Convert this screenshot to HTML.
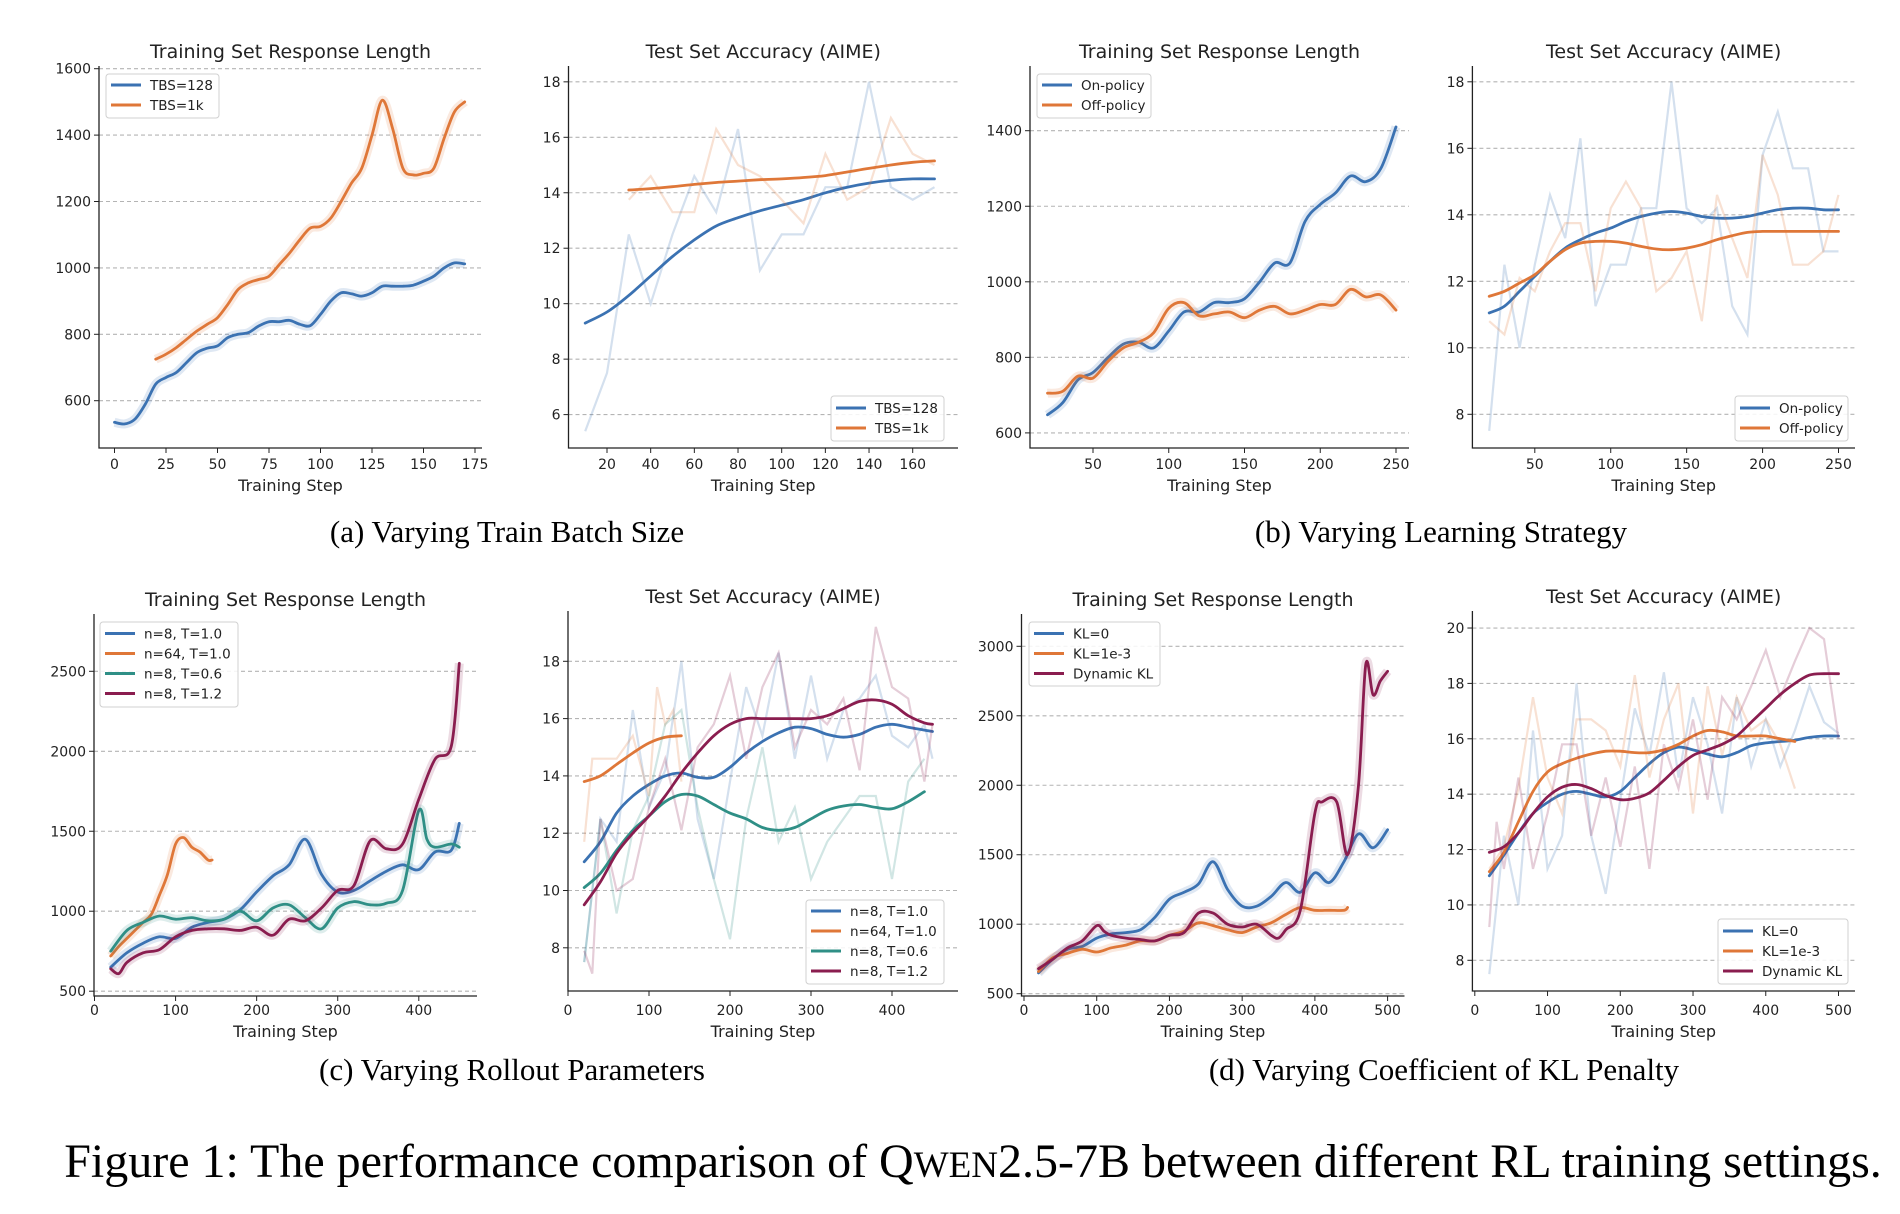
<!DOCTYPE html>
<html><head><meta charset="utf-8"><style>
html,body{margin:0;padding:0;background:#fff}
svg{display:block}
text{font-family:"DejaVu Sans","Liberation Sans",sans-serif;fill:#222}
.cap{font-family:"Liberation Serif",serif;fill:#000}
</style></head><body>
<svg id="fig" width="1900" height="1214" viewBox="0 0 1900 1214" xmlns="http://www.w3.org/2000/svg">
<text class="cap" x="507" y="542" font-size="31" text-anchor="middle">(a) Varying Train Batch Size</text>
<text class="cap" x="1441" y="542" font-size="31" text-anchor="middle">(b) Varying Learning Strategy</text>
<text class="cap" x="512" y="1080" font-size="31" text-anchor="middle">(c) Varying Rollout Parameters</text>
<text class="cap" x="1444" y="1080" font-size="31" text-anchor="middle">(d) Varying Coefficient of KL Penalty</text>
<text class="cap" x="973" y="1177" font-size="48" text-anchor="middle">Figure 1: The performance comparison of Q<tspan font-size="37">WEN</tspan>2.5-7B between different RL training settings.</text>
</svg>
<script>
// ---------- data ----------
const aLenX128 = [0,5,10,15,20,25,30,35,40,45,50,55,60,65,70,75,80,85,90,95,100,105,110,115,120,125,130,135,140,145,150,155,160,165,170];
const aLen128 = [535,530,545,590,650,670,685,715,745,758,765,790,800,805,825,838,838,842,830,826,860,900,925,922,915,925,945,945,945,948,960,975,1000,1015,1012];
const aLenX1k = [20,25,30,35,40,45,50,55,60,65,70,75,80,85,90,95,100,105,110,115,120,125,130,135,140,145,150,155,160,165,170];
const aLen1k = [725,740,760,785,810,830,850,890,935,955,965,975,1010,1045,1085,1120,1125,1150,1200,1255,1300,1400,1505,1420,1300,1280,1285,1300,1390,1470,1500];
const aAccX128 = [10,20,30,40,50,60,70,80,90,100,110,120,130,140,150,160,170];
const aAcc128 = [9.3,9.7,10.3,11.0,11.7,12.3,12.8,13.1,13.35,13.55,13.75,14.0,14.2,14.35,14.45,14.5,14.5];
const aAccRaw128 = [5.4,7.5,12.5,10.0,12.5,14.6,13.3,16.3,11.2,12.5,12.5,14.2,14.2,18.0,14.2,13.75,14.2];
const aAccX1k = [30,40,50,60,70,80,90,100,110,120,130,140,150,160,170];
const aAcc1k = [14.1,14.15,14.22,14.3,14.37,14.42,14.47,14.5,14.55,14.62,14.75,14.88,15.0,15.1,15.15];
const aAccRaw1k = [13.75,14.6,13.3,13.3,16.3,15.0,14.6,13.75,12.9,15.4,13.75,14.2,16.7,15.4,15.0];
const bLenX = [20,30,40,50,60,70,80,90,100,110,120,130,140,150,160,170,180,190,200,210,220,230,240,250];
const bLenOn = [648,680,740,760,800,835,840,825,870,920,920,945,945,955,1000,1050,1050,1160,1205,1235,1280,1265,1300,1410];
const bLenOff = [705,710,750,745,790,825,840,865,930,945,910,915,920,905,925,935,915,925,940,940,980,960,965,925];
const bAccX = [20,30,40,50,60,70,80,90,100,110,120,130,140,150,160,170,180,190,200,210,220,230,240,250];
const bAccOn = [11.05,11.25,11.7,12.15,12.6,13.0,13.25,13.45,13.6,13.8,13.95,14.05,14.1,14.05,13.95,13.9,13.9,13.95,14.05,14.15,14.2,14.2,14.15,14.15];
const bAccRawOn = [7.5,12.5,10.0,12.5,14.6,13.3,16.3,11.25,12.5,12.5,14.2,14.2,18.0,14.2,13.75,14.2,11.25,10.4,15.8,17.1,15.4,15.4,12.9,12.9];
const bAccOff = [11.55,11.7,11.95,12.2,12.6,12.95,13.15,13.2,13.2,13.15,13.05,12.97,12.95,13.0,13.1,13.25,13.37,13.47,13.5,13.5,13.5,13.5,13.5,13.5];
const bAccRawOff = [10.8,10.4,12.1,11.7,12.9,13.75,13.75,11.7,14.2,15.0,14.2,11.7,12.1,12.9,10.8,14.6,13.3,12.1,15.8,14.6,12.5,12.5,12.9,14.6];
const cLenX = [20,40,60,80,100,120,140,160,180,200,220,240,260,280,300,320,340,360,380,400,420,440,450];
const cLenN8T10 = [650,740,800,840,830,900,930,950,1010,1120,1220,1290,1450,1230,1120,1130,1190,1250,1290,1260,1370,1380,1550];
const cLenX64 = [20,30,40,50,60,70,80,90,100,110,120,130,140,145];
const cLenN64 = [720,780,830,880,930,980,1100,1230,1420,1460,1400,1370,1320,1320];
const cLenXT06 = [20,40,60,80,100,120,140,160,180,200,220,240,260,280,300,320,340,360,380,400,410,420,440,450];
const cLenN8T06 = [750,880,930,970,950,960,940,950,1000,940,1020,1040,960,890,1020,1060,1040,1050,1130,1630,1450,1400,1420,1400];
const cLenXT12 = [20,30,40,60,80,100,120,140,160,180,200,220,240,260,280,300,320,340,360,380,400,420,440,450];
const cLenN8T12 = [640,610,680,740,760,840,880,890,890,880,900,850,950,940,1020,1130,1160,1440,1390,1420,1700,1950,2030,2550];
const cAccX = [20,40,60,80,100,120,140,160,180,200,220,240,260,280,300,320,340,360,380,400,420,440,450];
const cAccN8T10 = [11.0,11.7,12.7,13.3,13.7,14.0,14.1,13.95,13.95,14.3,14.8,15.2,15.5,15.7,15.65,15.45,15.35,15.45,15.7,15.8,15.7,15.6,15.55];
const cAccRawN8T10 = [7.5,12.5,11.7,16.3,12.9,14.2,18.0,12.5,10.4,13.8,17.1,15.4,18.3,14.6,17.5,14.6,16.3,16.7,17.5,15.4,15.0,15.8,14.6];
const cAccX64 = [20,40,60,80,100,120,140];
const cAccN64 = [13.8,14.0,14.4,14.8,15.15,15.35,15.4];
const cAccRawX64 = [20,30,40,60,80,100,110,120,130,140];
const cAccRawN64 = [11.7,14.6,14.6,14.6,15.4,13.3,17.1,15.8,16.3,13.8];
const cAccXT06 = [20,40,60,80,100,120,140,160,180,200,220,240,260,280,300,320,340,360,380,400,420,440];
const cAccN8T06 = [10.1,10.6,11.4,12.1,12.6,13.1,13.35,13.3,13.0,12.7,12.5,12.2,12.1,12.2,12.5,12.8,12.95,13.0,12.9,12.85,13.1,13.45];
const cAccRawN8T06 = [7.5,12.5,9.2,12.1,13.3,15.8,16.3,12.9,10.4,8.3,12.5,15.0,11.7,12.9,10.4,11.7,12.5,13.3,13.3,10.4,13.8,14.6];
const cAccN8T12 = [9.5,10.3,11.3,12.0,12.6,13.3,14.1,14.8,15.4,15.8,16.0,16.0,16.0,16.0,16.0,16.1,16.35,16.6,16.65,16.5,16.1,15.85,15.8];
const cAccRawXT12 = [20,30,40,60,80,100,120,140,160,180,200,220,240,260,280,300,320,340,360,380,400,420,440,450];
const cAccRawN8T12 = [7.9,7.1,12.5,10.0,10.4,12.9,14.6,12.1,15.0,15.8,17.5,14.6,17.1,18.3,15.0,16.3,15.8,16.7,14.2,19.2,17.1,16.7,13.8,15.8];
const dLenX0 = [20,40,60,80,100,120,140,160,180,200,220,240,260,280,300,320,340,360,380,400,420,440,460,480,500];
const dLenKL0 = [650,750,820,840,900,930,940,960,1050,1180,1230,1290,1450,1250,1130,1130,1200,1300,1230,1370,1300,1450,1650,1550,1680];
const dLenX3 = [20,40,60,80,100,120,140,160,180,200,220,240,260,280,300,320,340,360,380,400,420,440,445];
const dLenKL3 = [660,760,790,820,800,830,850,880,880,920,950,1010,990,960,940,980,1010,1070,1120,1100,1100,1100,1120];
const dLenXD = [20,40,60,80,100,110,120,140,160,180,200,220,240,260,280,300,320,340,350,360,380,400,410,430,445,460,470,480,490,500];
const dLenDyn = [680,750,830,880,990,950,920,900,890,880,920,940,1080,1080,1000,980,1000,920,900,960,1100,1800,1880,1880,1500,2000,2870,2650,2750,2820];
const dAccX = [20,40,60,80,100,120,140,160,180,200,220,240,260,280,300,320,340,360,380,400,420,440,460,480,500];
const dAccKL0 = [11.05,11.8,12.6,13.3,13.7,14.0,14.1,14.0,13.9,14.1,14.6,15.1,15.5,15.7,15.6,15.45,15.35,15.5,15.75,15.85,15.9,15.95,16.05,16.1,16.1];
const dAccRawKL0 = [7.5,12.5,10.0,16.3,11.3,12.5,18.0,12.5,10.4,13.8,17.1,15.4,18.4,14.6,17.5,15.8,13.3,17.5,15.0,16.7,15.0,16.3,17.9,16.6,16.2];
const dAccX3 = [20,40,60,80,100,120,140,160,180,200,220,240,260,280,300,320,340,360,380,400,420,440];
const dAccKL3 = [11.2,11.9,13.0,14.1,14.8,15.1,15.3,15.45,15.55,15.55,15.5,15.5,15.6,15.8,16.1,16.3,16.25,16.1,16.1,16.1,16.0,15.9];
const dAccRawKL3 = [11.3,12.1,14.2,17.5,14.6,13.3,16.7,16.7,16.3,15.0,18.3,14.6,16.7,18.0,13.3,17.9,15.4,17.5,16.3,16.7,15.8,14.2];
const dAccDyn = [11.9,12.1,12.6,13.3,13.9,14.25,14.35,14.2,13.95,13.8,13.85,14.05,14.5,15.0,15.4,15.6,15.8,16.1,16.6,17.1,17.6,18.0,18.3,18.35,18.35];
const dAccRawXD = [20,30,40,60,80,100,120,140,160,180,200,220,240,260,280,300,320,340,360,380,400,420,440,460,480,500];
const dAccRawDyn = [9.2,13.0,11.3,14.6,11.3,13.3,15.8,15.8,12.5,14.6,12.1,15.0,11.3,15.8,14.2,16.7,13.8,17.5,16.7,17.9,19.2,17.5,18.8,20.0,19.6,16.0];

const BLUE="#3b72b2", ORANGE="#df7738", TEAL="#2f8f86", MAROON="#8a1d4f";
const NS="http://www.w3.org/2000/svg";
const svg=document.getElementById('fig');
function mk(tag,attrs,parent){const e=document.createElementNS(NS,tag);for(const k in attrs)e.setAttribute(k,attrs[k]);(parent||svg).appendChild(e);return e;}
function smoothPath(pts){
  if(pts.length<2)return "";
  let d="M"+pts[0][0].toFixed(1)+","+pts[0][1].toFixed(1);
  for(let i=0;i<pts.length-1;i++){
    const p0=pts[Math.max(0,i-1)],p1=pts[i],p2=pts[i+1],p3=pts[Math.min(pts.length-1,i+2)];
    const c1x=p1[0]+(p2[0]-p0[0])/6,c1y=p1[1]+(p2[1]-p0[1])/6;
    const c2x=p2[0]-(p3[0]-p1[0])/6,c2y=p2[1]-(p3[1]-p1[1])/6;
    d+=" C"+c1x.toFixed(1)+","+c1y.toFixed(1)+" "+c2x.toFixed(1)+","+c2y.toFixed(1)+" "+p2[0].toFixed(1)+","+p2[1].toFixed(1);
  }
  return d;
}
function linePath(pts){return pts.map((p,i)=>(i?"L":"M")+p[0].toFixed(1)+","+p[1].toFixed(1)).join(" ");}

function panel(c){
  const g=mk('g',{});
  
  
  const X=v=>c.xp0+(v-c.xv0)*c.kx, Y=v=>c.yp0+(v-c.yv0)*c.ky;
  c.yticks.forEach(v=>{
    const gl=mk('line',{x1:c.left,x2:c.right,y1:Y(v),y2:Y(v),stroke:"#b4b4b4","stroke-width":1.1,"stroke-dasharray":"4,3"},g);
    
    
    mk('line',{x1:c.left-5,x2:c.left,y1:Y(v),y2:Y(v),stroke:"#222","stroke-width":1},g);
    const t=mk('text',{x:c.left-8,y:Y(v)+5,"font-size":14,"text-anchor":"end"},g);
    
    
    t.textContent=v;
  });
  c.xticks.forEach(v=>{
    mk('line',{x1:X(v),x2:X(v),y1:c.bottom,y2:c.bottom+5,stroke:"#222","stroke-width":1},g);
    const t=mk('text',{x:X(v),y:c.tickY,"font-size":14,"text-anchor":"middle"},g);
    
    
    t.textContent=v;
  });
  c.series.forEach(s=>{
    if(s.raw){
      const pts=s.rawx.map((x,i)=>[X(x),Y(s.raw[i])]);
      const p=mk('path',{d:linePath(pts),fill:"none",stroke:s.color,"stroke-opacity":0.22,"stroke-width":2.2},g);
      
      
    }
    const pts=s.x.map((x,i)=>[X(x),Y(s.y[i])]);
    if(s.band){
      const b=mk('path',{d:smoothPath(pts),fill:"none",stroke:s.color,"stroke-opacity":0.16,"stroke-width":9,"stroke-linejoin":"round"},g);
      
      
    }
    const p=mk('path',{d:smoothPath(pts),fill:"none",stroke:s.color,"stroke-width":2.8,"stroke-linejoin":"round","stroke-linecap":"round"},g);
    
    
  });
  const ax=mk('path',{d:`M${c.left},${c.top} L${c.left},${c.bottom} L${c.right},${c.bottom}`,fill:"none",stroke:"#222","stroke-width":1.3},g);
  
  
  const tt=mk('text',{x:(c.left+c.right)/2,y:c.titleY,"font-size":19,"text-anchor":"middle"},g);
  
  
  tt.textContent=c.title;
  const xl=mk('text',{x:(c.left+c.right)/2,y:c.xlabY,"font-size":16,"text-anchor":"middle"},g);
  
  
  xl.textContent="Training Step";
  const L=c.legend;
  const lb=mk('rect',{x:L.x,y:L.y,width:L.w,height:L.h,rx:3,fill:"#fff","fill-opacity":0.85,stroke:"#d0d0d0","stroke-width":1},g);
  
  
  c.series.forEach((s,i)=>{
    const yy=L.y0+i*L.dy;
    mk('line',{x1:L.x+5,x2:L.x+35,y1:yy,y2:yy,stroke:s.color,"stroke-width":3},g);
    const t=mk('text',{x:L.x+44,y:yy+5,"font-size":13.5},g);
    
    
    t.textContent=s.label;
  });
}
const TOP={titleY:58,tickY:469,xlabY:491,top:66,bottom:448};
const BOT1={titleY:606,tickY:1015,xlabY:1037,top:614,bottom:996};
const BOT2={titleY:603,tickY:1015,xlabY:1037,top:611,bottom:991};
const LEN="Training Set Response Length", ACC="Test Set Accuracy (AIME)";
const r=(a,b,s)=>{const o=[];for(let v=a;v<=b+1e-9;v+=s)o.push(v);return o;};

panel(Object.assign({name:"chart-a-length",title:LEN,left:99,right:482,xv0:0,xp0:114.5,kx:2.06,yv0:600,yp0:400.7,ky:-0.332,xticks:r(0,175,25),yticks:r(600,1600,200),
 legend:{x:106,y:74,w:113,h:44,y0:85,dy:20},
 series:[{x:aLenX128,y:aLen128,color:BLUE,label:"TBS=128",band:1},{x:aLenX1k,y:aLen1k,color:ORANGE,label:"TBS=1k",band:1}]},TOP));
panel(Object.assign({name:"chart-a-accuracy",title:ACC,left:568.5,right:958,xv0:20,xp0:607,kx:2.1836,yv0:6,yp0:414.6,ky:-27.73,xticks:r(20,160,20),yticks:r(6,18,2),
 legend:{x:831,y:396,w:113,h:45,y0:408,dy:20},
 series:[{x:aAccX128,y:aAcc128,raw:aAccRaw128,rawx:aAccX128,color:BLUE,label:"TBS=128"},{x:aAccX1k,y:aAcc1k,raw:aAccRaw1k,rawx:aAccX1k,color:ORANGE,label:"TBS=1k"}]},TOP));
panel(Object.assign({name:"chart-b-length",title:LEN,left:1030,right:1409,xv0:50,xp0:1093,kx:1.515,yv0:600,yp0:432.9,ky:-0.37775,xticks:r(50,250,50),yticks:r(600,1400,200),
 legend:{x:1037,y:74,w:114,h:44,y0:85,dy:20},
 series:[{x:bLenX,y:bLenOn,color:BLUE,label:"On-policy",band:1},{x:bLenX,y:bLenOff,color:ORANGE,label:"Off-policy",band:1}]},TOP));
panel(Object.assign({name:"chart-b-accuracy",title:ACC,left:1472.4,right:1855,xv0:50,xp0:1534.8,kx:1.5185,yv0:8,yp0:414.3,ky:-33.25,xticks:r(50,250,50),yticks:r(8,18,2),
 legend:{x:1735,y:396,w:113,h:45,y0:408,dy:20},
 series:[{x:bAccX,y:bAccOn,raw:bAccRawOn,rawx:bAccX,color:BLUE,label:"On-policy"},{x:bAccX,y:bAccOff,raw:bAccRawOff,rawx:bAccX,color:ORANGE,label:"Off-policy"}]},TOP));
panel(Object.assign({name:"chart-c-length",title:LEN,left:94,right:477,xv0:0,xp0:94.5,kx:0.81075,yv0:500,yp0:991.2,ky:-0.15995,xticks:r(0,400,100),yticks:r(500,2500,500),
 legend:{x:100,y:622,w:138,h:85,y0:633.5,dy:20},
 series:[{x:cLenX,y:cLenN8T10,color:BLUE,label:"n=8, T=1.0",band:1},{x:cLenX64,y:cLenN64,color:ORANGE,label:"n=64, T=1.0",band:1},{x:cLenXT06,y:cLenN8T06,color:TEAL,label:"n=8, T=0.6",band:1},{x:cLenXT12,y:cLenN8T12,color:MAROON,label:"n=8, T=1.2",band:1}]},BOT1));
panel(Object.assign({name:"chart-c-accuracy",title:ACC,left:568,right:958,xv0:0,xp0:568,kx:0.81,yv0:8,yp0:947.8,ky:-28.65,xticks:r(0,400,100),yticks:r(8,18,2),
 legend:{x:806,y:900,w:138,h:84,y0:911,dy:20},
 series:[{x:cAccX,y:cAccN8T10,raw:cAccRawN8T10,rawx:cAccX,color:BLUE,label:"n=8, T=1.0"},{x:cAccX64,y:cAccN64,raw:cAccRawN64,rawx:cAccRawX64,color:ORANGE,label:"n=64, T=1.0"},{x:cAccXT06,y:cAccN8T06,raw:cAccRawN8T06,rawx:cAccXT06,color:TEAL,label:"n=8, T=0.6"},{x:cAccX,y:cAccN8T12,raw:cAccRawN8T12,rawx:cAccRawXT12,color:MAROON,label:"n=8, T=1.2"}]},BOT2));
panel(Object.assign({name:"chart-d-length",title:LEN,left:1021.5,right:1404.5,xv0:0,xp0:1024,kx:0.7272,yv0:500,yp0:993.7,ky:-0.13896,xticks:r(0,500,100),yticks:r(500,3000,500),
 legend:{x:1029,y:622,w:131,h:64,y0:633.5,dy:20},
 series:[{x:dLenX0,y:dLenKL0,color:BLUE,label:"KL=0",band:1},{x:dLenX3,y:dLenKL3,color:ORANGE,label:"KL=1e-3",band:1},{x:dLenXD,y:dLenDyn,color:MAROON,label:"Dynamic KL",band:1}]},BOT1));
panel(Object.assign({name:"chart-d-accuracy",title:ACC,left:1472.4,right:1855,xv0:0,xp0:1474.8,kx:0.7274,yv0:8,yp0:960.3,ky:-27.69,xticks:r(0,500,100),yticks:r(8,20,2),
 legend:{x:1718,y:919,w:130,h:65,y0:931,dy:20},
 series:[{x:dAccX,y:dAccKL0,raw:dAccRawKL0,rawx:dAccX,color:BLUE,label:"KL=0"},{x:dAccX3,y:dAccKL3,raw:dAccRawKL3,rawx:dAccX3,color:ORANGE,label:"KL=1e-3"},{x:dAccX,y:dAccDyn,raw:dAccRawDyn,rawx:dAccRawXD,color:MAROON,label:"Dynamic KL"}]},BOT2));
</script>
</body></html>
